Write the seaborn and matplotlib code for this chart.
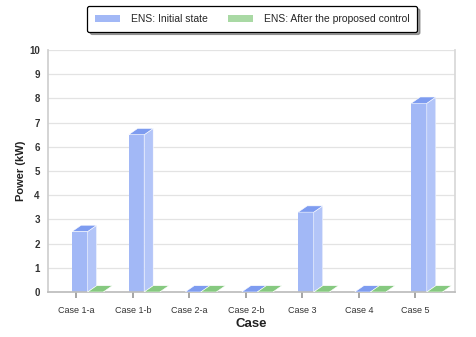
import matplotlib
matplotlib.use("Agg")
import matplotlib.pyplot as plt
from matplotlib.patches import Polygon
import seaborn as sns
import pandas as pd

cases = ["Case 1-a", "Case 1-b", "Case 2-a", "Case 2-b", "Case 3", "Case 4", "Case 5"]
initial_state = [2.5, 6.5, 0.0, 0.0, 3.3, 0.0, 7.8]
after_control = [0.0, 0.0, 0.0, 0.0, 0.0, 0.0, 0.0]
series_names = ["ENS: Initial state", "ENS: After the proposed control"]

df = pd.DataFrame({
    "Case": cases * 2,
    "Power": initial_state + after_control,
    "Series": [series_names[0]] * len(cases) + [series_names[1]] * len(cases),
})

front = {series_names[0]: "#a2b8f6", series_names[1]: "#a9d9a4"}
top = {series_names[0]: "#7e9cf0", series_names[1]: "#86c980"}
side = {series_names[0]: "#b3c5f8", series_names[1]: "#98d193"}

sns.set_theme(style="white")
plt.rcParams["font.family"] = ["Liberation Sans", "DejaVu Sans"]

fig = plt.figure(figsize=(4.76, 3.37), dpi=100)
ax = fig.add_axes([0.101, 0.1335, 0.855, 0.718])

sns.barplot(data=df, x="Case", y="Power", hue="Series", palette=front,
            width=0.55, dodge=True, ax=ax, legend=False, saturation=1,
            linewidth=0)

ax.set_ylim(0, 10)
ax.set_xlim(-0.7, 6.5)
ax.set_yticks(range(0, 11))
ax.yaxis.grid(True, color="#e3e3e3", linewidth=0.9)
ax.set_axisbelow(True)

# category labels sit on the front edge of the floor, a little left of the bars
ax.set_xticks([i - 0.2 for i in range(len(cases))])
ax.set_xticklabels(cases)

# pseudo-3D faces for every bar, built from the bar geometry
dx, dy = 0.16, 0.26
bars = [p for p in ax.patches]
n = len(cases)
for i, p in enumerate(bars):
    name = series_names[0] if i < n else series_names[1]
    x, w, h = p.get_x(), p.get_width(), p.get_height()
    ax.add_patch(Polygon([(x + w, 0), (x + w + dx, dy), (x + w + dx, h + dy), (x + w, h)],
                         closed=True, facecolor=side[name], edgecolor="white",
                         linewidth=0.4, zorder=3))
    ax.add_patch(Polygon([(x, h), (x + w, h), (x + w + dx, h + dy), (x + dx, h + dy)],
                         closed=True, facecolor=top[name], edgecolor="white",
                         linewidth=0.4, zorder=3))

ax.spines["top"].set_visible(False)
ax.spines["left"].set_color("#cfcfcf")
ax.spines["bottom"].set_color("#bdbdbd")
ax.spines["right"].set_color("#d8d8d8")

ax.tick_params(axis="x", length=4, color="#9a9a9a", labelsize=6.5,
               labelcolor="#333333", bottom=True, pad=6)
ax.tick_params(axis="y", length=0, labelsize=7, labelcolor="#333333", pad=6)
for lbl in ax.get_yticklabels():
    lbl.set_fontweight("bold")

ax.set_xlabel("Case", fontsize=9.5, fontweight="bold", color="#222222", labelpad=2)
ax.set_ylabel("Power (kW)", fontsize=8, fontweight="bold", color="#222222", labelpad=2)

handles = [plt.Rectangle((0, 0), 1, 1, facecolor=front[s], edgecolor="none")
           for s in series_names]
leg = fig.legend(handles, series_names, loc="center", ncol=2,
                 bbox_to_anchor=(0.53, 0.944), fontsize=7.5, frameon=True,
                 fancybox=True, shadow=True, handlelength=2.4, handleheight=0.7,
                 columnspacing=2.0, handletextpad=1.0, borderpad=0.75,
                 borderaxespad=0)
leg.get_frame().set_edgecolor("black")
leg.get_frame().set_linewidth(0.9)

fig.savefig("out.png", dpi=100, facecolor="white")
